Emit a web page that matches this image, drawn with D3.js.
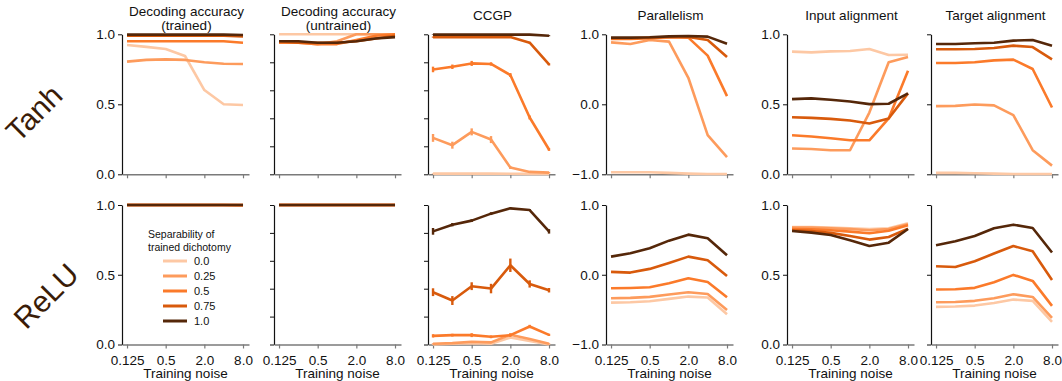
<!DOCTYPE html>
<html lang="en">
<head>
<meta charset="UTF-8">
<title>Training noise sweep</title>
<script src="https://d3js.org/d3.v7.min.js"></script>
<style>
    html, body {
        margin: 0;
        background: #fff;
    }
    svg text {
        font-family: "Liberation Sans", Arial, sans-serif;
        fill: #111;
    }
</style>
</head>
<body>
<div id="vis"></div>
<script>

    /*
     *  DATA
     */
    var noise = [0.125, 0.25, 0.5, 1, 2, 4, 8];
    var noiseTicks = [0.125, 0.5, 2, 8];
    var noiseTickLabels = ["0.125", "0.5", "2.0", "8.0"];
    var separability = ["0.0", "0.25", "0.5", "0.75", "1.0"];
    var sepColors = ["#fdc8a4", "#fd9b5c", "#fb7a2a", "#d85a0c", "#552709"];
    var panelTitles = [["Decoding accuracy", "(trained)"], ["Decoding accuracy", "(untrained)"],
                       ["CCGP"], ["Parallelism"], ["Input alignment"], ["Target alignment"]];
    var rowNames = ["Tanh", "ReLU"];

    // series order: separability 0.0, 0.25, 0.5, 0.75, 1.0
    var tanhDecTrained = [
        [0.924, 0.910, 0.895, 0.845, 0.602, 0.500, 0.495],
        [0.805, 0.817, 0.821, 0.817, 0.800, 0.790, 0.788],
        [0.950, 0.950, 0.950, 0.950, 0.950, 0.950, 0.940],
        [0.990, 0.990, 0.990, 0.990, 0.990, 0.990, 0.985],
        [0.998, 0.998, 0.998, 0.998, 0.998, 0.998, 0.995]
    ];
    var tanhDecUntrained = [
        [1.000, 1.000, 1.000, 1.000, 1.000, 1.000, 1.000],
        [0.940, 0.940, 0.930, 0.950, 1.000, 1.000, 1.000],
        [0.940, 0.940, 0.930, 0.930, 0.960, 0.990, 1.000],
        [0.950, 0.940, 0.940, 0.940, 0.950, 0.970, 0.990],
        [0.950, 0.950, 0.940, 0.940, 0.950, 0.970, 0.980]
    ];
    var tanhCcgp = [
        [0.005, 0.005, 0.005, 0.005, 0.004, 0.003, 0.003],
        [0.260, 0.208, 0.303, 0.248, 0.048, 0.017, 0.012],
        [0.749, 0.768, 0.792, 0.788, 0.709, 0.406, 0.177],
        [0.980, 0.980, 0.980, 0.980, 0.980, 0.940, 0.785],
        [0.998, 0.998, 0.998, 0.998, 0.998, 0.998, 0.990]
    ];
    var tanhCcgpErr = [
        [0.003, 0.003, 0.003, 0.003, 0.003, 0.002, 0.002],
        [0.028, 0.025, 0.025, 0.025, 0.010, 0.005, 0.005],
        [0.020, 0.016, 0.018, 0.012, 0.014, 0.014, 0.010],
        [0.004, 0.004, 0.004, 0.004, 0.004, 0.006, 0.008],
        [0.002, 0.002, 0.002, 0.002, 0.002, 0.002, 0.004]
    ];
    var tanhParallel = [
        [-0.970, -0.970, -0.970, -0.980, -0.990, -0.995, -0.995],
        [0.885, 0.862, 0.919, 0.895, 0.379, -0.441, -0.756],
        [0.933, 0.933, 0.943, 0.957, 0.952, 0.695, 0.117],
        [0.943, 0.943, 0.952, 0.962, 0.962, 0.919, 0.675],
        [0.952, 0.952, 0.957, 0.971, 0.976, 0.967, 0.866]
    ];
    var tanhInputAlign = [
        [0.876, 0.871, 0.878, 0.881, 0.895, 0.852, 0.854],
        [0.184, 0.181, 0.172, 0.172, 0.441, 0.800, 0.838],
        [0.279, 0.270, 0.258, 0.243, 0.243, 0.399, 0.740],
        [0.408, 0.403, 0.396, 0.384, 0.363, 0.399, 0.578],
        [0.537, 0.542, 0.532, 0.520, 0.501, 0.504, 0.578]
    ];
    var tanhTargetAlign = [
        [0.010, 0.010, 0.007, 0.005, 0.002, 0.002, 0.002],
        [0.487, 0.489, 0.499, 0.492, 0.423, 0.172, 0.062],
        [0.795, 0.795, 0.800, 0.814, 0.819, 0.752, 0.477],
        [0.893, 0.893, 0.895, 0.902, 0.919, 0.909, 0.821],
        [0.931, 0.931, 0.936, 0.940, 0.955, 0.959, 0.919]
    ];
    var reluDecTrained = [
        [1.000, 1.000, 1.000, 1.000, 1.000, 1.000, 0.995],
        [1.000, 1.000, 1.000, 1.000, 1.000, 1.000, 0.997],
        [1.000, 1.000, 1.000, 1.000, 1.000, 1.000, 1.000],
        [1.000, 1.000, 1.000, 1.000, 1.000, 1.000, 1.000],
        [1.000, 1.000, 1.000, 1.000, 1.000, 1.000, 1.000]
    ];
    var reluDecUntrained = [
        [1.000, 1.000, 1.000, 1.000, 1.000, 1.000, 1.000],
        [1.000, 1.000, 1.000, 1.000, 1.000, 1.000, 1.000],
        [1.000, 1.000, 1.000, 1.000, 1.000, 1.000, 1.000],
        [1.000, 1.000, 1.000, 1.000, 1.000, 1.000, 1.000],
        [1.000, 1.000, 1.000, 1.000, 1.000, 1.000, 1.000]
    ];
    var reluCcgp = [
        [0.000, 0.005, 0.010, 0.005, 0.050, 0.025, 0.000],
        [0.005, 0.010, 0.020, 0.015, 0.070, 0.040, 0.005],
        [0.062, 0.067, 0.067, 0.055, 0.067, 0.129, 0.069],
        [0.375, 0.315, 0.418, 0.401, 0.568, 0.434, 0.389],
        [0.811, 0.859, 0.888, 0.938, 0.976, 0.964, 0.811]
    ];
    var reluCcgpErr = [
        [0.003, 0.003, 0.004, 0.004, 0.006, 0.005, 0.003],
        [0.004, 0.004, 0.005, 0.005, 0.008, 0.006, 0.004],
        [0.012, 0.010, 0.014, 0.010, 0.012, 0.012, 0.008],
        [0.028, 0.032, 0.028, 0.034, 0.048, 0.026, 0.016],
        [0.024, 0.012, 0.010, 0.010, 0.006, 0.006, 0.016]
    ];
    var reluParallel = [
        [-0.399, -0.394, -0.380, -0.346, -0.313, -0.327, -0.566],
        [-0.337, -0.332, -0.317, -0.284, -0.251, -0.275, -0.504],
        [-0.193, -0.189, -0.179, -0.122, -0.050, -0.103, -0.322],
        [0.041, 0.031, 0.084, 0.169, 0.260, 0.208, -0.017],
        [0.260, 0.308, 0.379, 0.489, 0.575, 0.523, 0.279]
    ];
    var reluInputAlign = [
        [0.842, 0.842, 0.838, 0.833, 0.828, 0.833, 0.869],
        [0.838, 0.838, 0.833, 0.828, 0.819, 0.828, 0.862],
        [0.828, 0.826, 0.819, 0.809, 0.797, 0.816, 0.854],
        [0.819, 0.814, 0.800, 0.778, 0.752, 0.771, 0.831],
        [0.814, 0.802, 0.785, 0.747, 0.706, 0.730, 0.828]
    ];
    var reluTargetAlign = [
        [0.270, 0.272, 0.279, 0.298, 0.322, 0.313, 0.162],
        [0.303, 0.305, 0.313, 0.332, 0.360, 0.341, 0.191],
        [0.394, 0.396, 0.406, 0.446, 0.499, 0.456, 0.277],
        [0.561, 0.556, 0.597, 0.652, 0.706, 0.668, 0.463],
        [0.711, 0.740, 0.778, 0.833, 0.859, 0.835, 0.659]
    ];

    var rowData = [
        [tanhDecTrained, tanhDecUntrained, tanhCcgp, tanhParallel, tanhInputAlign, tanhTargetAlign],
        [reluDecTrained, reluDecUntrained, reluCcgp, reluParallel, reluInputAlign, reluTargetAlign]
    ];
    var rowErr = [
        [null, null, tanhCcgpErr, null, null, null],
        [null, null, reluCcgpErr, null, null, null]
    ];

    var yDomains = [[0, 1], [0, 1], [0, 1], [-1, 1], [0, 1], [0, 1]];
    var yTicks = [[0, 0.5, 1], [0, 0.2, 0.4, 0.6, 0.8, 1], [0, 0.2, 0.4, 0.6, 0.8, 1],
                  [-1, 0, 1], [0, 0.5, 1], [0, 0.5, 1]];
    var yLabeled = [true, false, false, true, true, false];

    /*
     *  LAYOUT
     */
    var width = 1062, height = 381;
    var panelLeft = [122, 274, 428, 606, 787, 931];
    var rowTop = [34.3, 205];
    var rowHeight = [140, 139.5];
    var boxW = 127;

    var svg = d3.select("#vis")
        .append("svg")
            .attr("width", width)
            .attr("height", height);

    var x_scale = d3.scaleLog()
        .base(2)
        .domain([Math.pow(2, -3.26), Math.pow(2, 3.31)])
        .range([0, boxW]);

    var line_gen = d3.line();

    rowData.forEach(function(panels, r) {
        panels.forEach(function(series, p) {
            var g = svg.append("g")
                .attr("transform", "translate(" + panelLeft[p] + "," + rowTop[r] + ")");

            var y_scale = d3.scaleLinear()
                .domain(yDomains[p])
                .range([rowHeight[r], 0]);

            // y axis
            var y_axis = d3.axisLeft(y_scale)
                .tickValues(yTicks[p])
                .tickSize(4)
                .tickSizeOuter(0)
                .tickPadding(3)
                .tickFormat(yLabeled[p] ? d3.format(".1f") : function() { return ""; });
            var ya = g.append("g").call(y_axis);
            ya.select(".domain").attr("stroke", "#111").attr("stroke-width", 1.2);
            ya.selectAll(".tick line").attr("stroke", "#111").attr("stroke-width", 1);
            ya.selectAll("text").style("font-size", "13.5px").attr("fill", "#111");

            // x axis
            var x_axis = d3.axisBottom(x_scale)
                .tickValues(noiseTicks)
                .tickSize(4)
                .tickSizeOuter(0)
                .tickPadding(7)
                .tickFormat(function(d, i) { return r === 1 ? noiseTickLabels[i] : ""; });
            var xa = g.append("g")
                .attr("transform", "translate(0," + rowHeight[r] + ")")
                .call(x_axis);
            xa.select(".domain").attr("stroke", "#7a7a7a").attr("stroke-width", 1.6);
            xa.selectAll(".tick line").attr("stroke", "#7a7a7a").attr("stroke-width", 1.2);
            xa.selectAll("text").style("font-size", "13.5px").attr("fill", "#111");

            if (r === 1) {
                g.append("text")
                    .attr("x", boxW / 2)
                    .attr("y", rowHeight[r] + 33.5)
                    .attr("text-anchor", "middle")
                    .style("font-size", "13.5px")
                    .text("Training noise");
            } else {
                var t = panelTitles[p];
                g.append("text")
                    .attr("x", boxW / 2 + 1)
                    .attr("y", t.length === 2 ? -18 : -14)
                    .attr("text-anchor", "middle")
                    .style("font-size", "13.5px")
                    .text(t[0]);
                if (t.length === 2) {
                    g.append("text")
                        .attr("x", boxW / 2 + 1)
                        .attr("y", -4)
                        .attr("text-anchor", "middle")
                        .style("font-size", "13.5px")
                        .text(t[1]);
                }
            }

            // lines, lightest first
            series.forEach(function(vals, s) {
                var pts = vals.map(function(v, i) { return [x_scale(noise[i]), y_scale(v)]; });
                g.append("path")
                    .attr("d", line_gen(pts))
                    .attr("fill", "none")
                    .attr("stroke", sepColors[s])
                    .attr("stroke-width", 2.6)
                    .attr("stroke-linejoin", "round");

                var err = rowErr[r][p];
                if (err) {
                    g.selectAll(null)
                        .data(vals)
                        .enter()
                        .append("line")
                            .attr("x1", function(d, i) { return x_scale(noise[i]); })
                            .attr("x2", function(d, i) { return x_scale(noise[i]); })
                            .attr("y1", function(d, i) { return y_scale(d - err[s][i]); })
                            .attr("y2", function(d, i) { return y_scale(d + err[s][i]); })
                            .attr("stroke", sepColors[s])
                            .attr("stroke-width", 2.4);
                }
            });
        });
    });

    // row labels
    var rowLabelPos = [[34, 113], [46, 296]];
    rowNames.forEach(function(name, r) {
        svg.append("text")
            .attr("transform", "translate(" + rowLabelPos[r][0] + "," + rowLabelPos[r][1] + ") rotate(-45)")
            .attr("text-anchor", "middle")
            .attr("dominant-baseline", "central")
            .style("font-size", "30px")
            .style("fill", "#3a1c08")
            .text(name);
    });

    // legend inside the ReLU decoding panel
    var legend = svg.append("g").attr("transform", "translate(148,0)");
    legend.append("text")
        .attr("x", 0).attr("y", 238)
        .style("font-size", "10.5px")
        .text("Separability of");
    legend.append("text")
        .attr("x", 0).attr("y", 251)
        .style("font-size", "10.5px")
        .text("trained dichotomy");
    separability.forEach(function(label, s) {
        var yy = 261 + s * 15;
        legend.append("line")
            .attr("x1", 15).attr("x2", 39)
            .attr("y1", yy).attr("y2", yy)
            .attr("stroke", sepColors[s])
            .attr("stroke-width", 3);
        legend.append("text")
            .attr("x", 46).attr("y", yy)
            .attr("dominant-baseline", "central")
            .style("font-size", "11px")
            .text(label);
    });

</script>
</body>
</html>
